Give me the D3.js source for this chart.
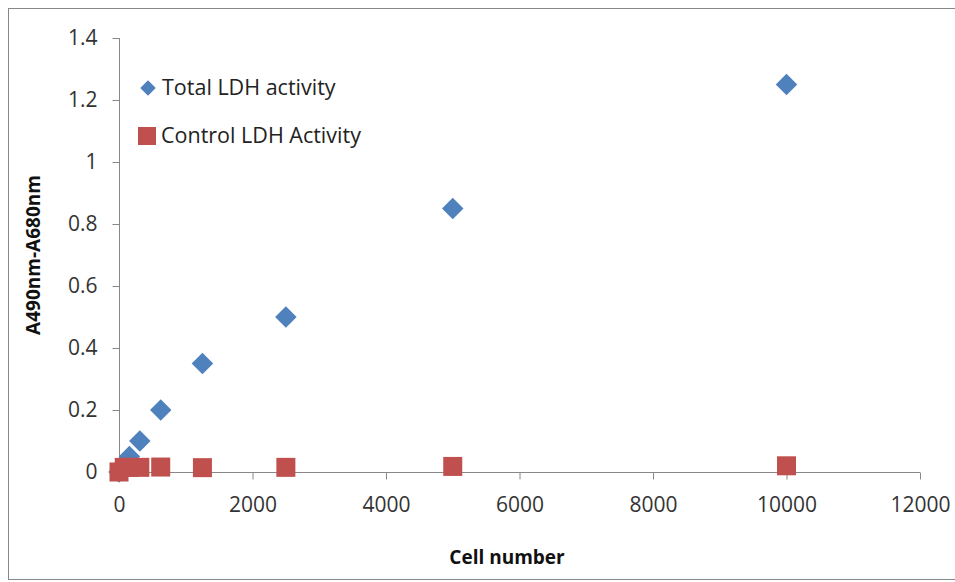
<!DOCTYPE html>
<html>
<head>
<meta charset="utf-8">
<script src="https://cdn.jsdelivr.net/npm/d3@7"></script>
<style>
  body { margin: 0; background: #fff; }
  text { font-family: "Open Sans", sans-serif; }
</style>
</head>
<body>
<div id="chart"></div>
<script>

// cell numbers and readings
var cells = [0, 78, 156, 312, 625, 1250, 2500, 5000, 10000];
var totalLDH = [0, 0.02, 0.05, 0.1, 0.2, 0.35, 0.5, 0.85, 1.25];
var controlLDH = [0, 0.015, 0.015, 0.015, 0.016, 0.014, 0.015, 0.018, 0.02];
var xTicks = [0, 2000, 4000, 6000, 8000, 10000, 12000];
var yTicks = [0, 0.2, 0.4, 0.6, 0.8, 1, 1.2, 1.4];
var seriesNames = ["Total LDH activity", "Control LDH Activity"];
var seriesColors = ["#4F81BD", "#C0504D"];

var width = 955, height = 582;

var svg = d3.select("#chart")
            .append("svg")
            .attr("width", width)
            .attr("height", height);

// outer frame
svg.append("rect")
  .attr("x", 8.5)
  .attr("y", 8.5)
  .attr("width", 960)
  .attr("height", 571)
  .style("fill", "none")
  .style("stroke", "#888")
  .style("stroke-width", 1);

var x = d3.scaleLinear().domain([0, 12000]).range([119, 920]);
var y = d3.scaleLinear().domain([0, 1.4]).range([472, 38]);

// y axis
var yAxis = svg.append("g")
  .attr("transform", "translate(119.5,0)")
  .call(d3.axisLeft(y).tickValues(yTicks).tickSize(7)
        .tickFormat(function(d){ return d3.format("")(d); }));

// x axis
var xAxis = svg.append("g")
  .attr("transform", "translate(0,472.5)")
  .call(d3.axisBottom(x).tickValues(xTicks).tickSize(7)
        .tickFormat(function(d){ return d3.format("d")(d); }));

[xAxis, yAxis].forEach(function(ax){
  ax.selectAll(".tick line").style("stroke", "#888");
  ax.selectAll(".tick text")
    .attr("font-size", "21px")
    .style("font-family", "'Open Sans', sans-serif")
    .style("fill", "#333");
});
// plain axis lines without end caps
yAxis.select(".domain").style("stroke", "#888").attr("d", "M0," + y(1.4) + "V" + y(0));
xAxis.select(".domain").style("stroke", "#888").attr("d", "M" + x(0) + ",0H" + x(12000));
xAxis.selectAll(".tick text").attr("y", 25).attr("dy", "0.71em");
yAxis.selectAll(".tick text").attr("x", -22);

// axis titles
svg.append("text")
  .attr("x", 507)
  .attr("y", 564)
  .attr("text-anchor", "middle")
  .attr("font-size", "19px")
  .attr("font-weight", "bold")
  .style("fill", "#111")
  .text("Cell number");

svg.append("text")
  .attr("transform", "translate(40,255) rotate(-90)")
  .attr("text-anchor", "middle")
  .attr("font-size", "19px")
  .attr("font-weight", "bold")
  .style("fill", "#111")
  .text("A490nm-A680nm");

var diamond = d3.symbol().type(d3.symbolSquare).size(230);

// total diamonds
svg.append("g").selectAll("path")
  .data(cells)
  .enter()
  .append("path")
  .attr("d", diamond)
  .attr("transform", function(d,i){
    return "translate(" + x(d) + "," + y(totalLDH[i]) + ") rotate(45)";
  })
  .style("fill", seriesColors[0]);

// control squares on top
svg.append("g").selectAll("rect")
  .data(cells)
  .enter()
  .append("rect")
  .attr("x", function(d){ return x(d) - 9.5; })
  .attr("y", function(d,i){ return y(controlLDH[i]) - 9.5; })
  .attr("width", 19)
  .attr("height", 19)
  .style("fill", seriesColors[1]);

// legend
var legend = svg.append("g");

legend.append("path")
  .attr("d", d3.symbol().type(d3.symbolSquare).size(120))
  .attr("transform", "translate(148,88) rotate(45)")
  .style("fill", seriesColors[0]);

legend.append("rect")
  .attr("x", 138)
  .attr("y", 127)
  .attr("width", 18)
  .attr("height", 18)
  .style("fill", seriesColors[1]);

legend.selectAll("text")
  .data(seriesNames)
  .enter()
  .append("text")
  .attr("x", function(d,i){ return i ? 161 : 162; })
  .attr("y", function(d,i){ return 95 + 48*i; })
  .attr("font-size", "21.5px")
  .style("fill", "#222")
  .text(function(d){ return d; });

</script>
</body>
</html>
